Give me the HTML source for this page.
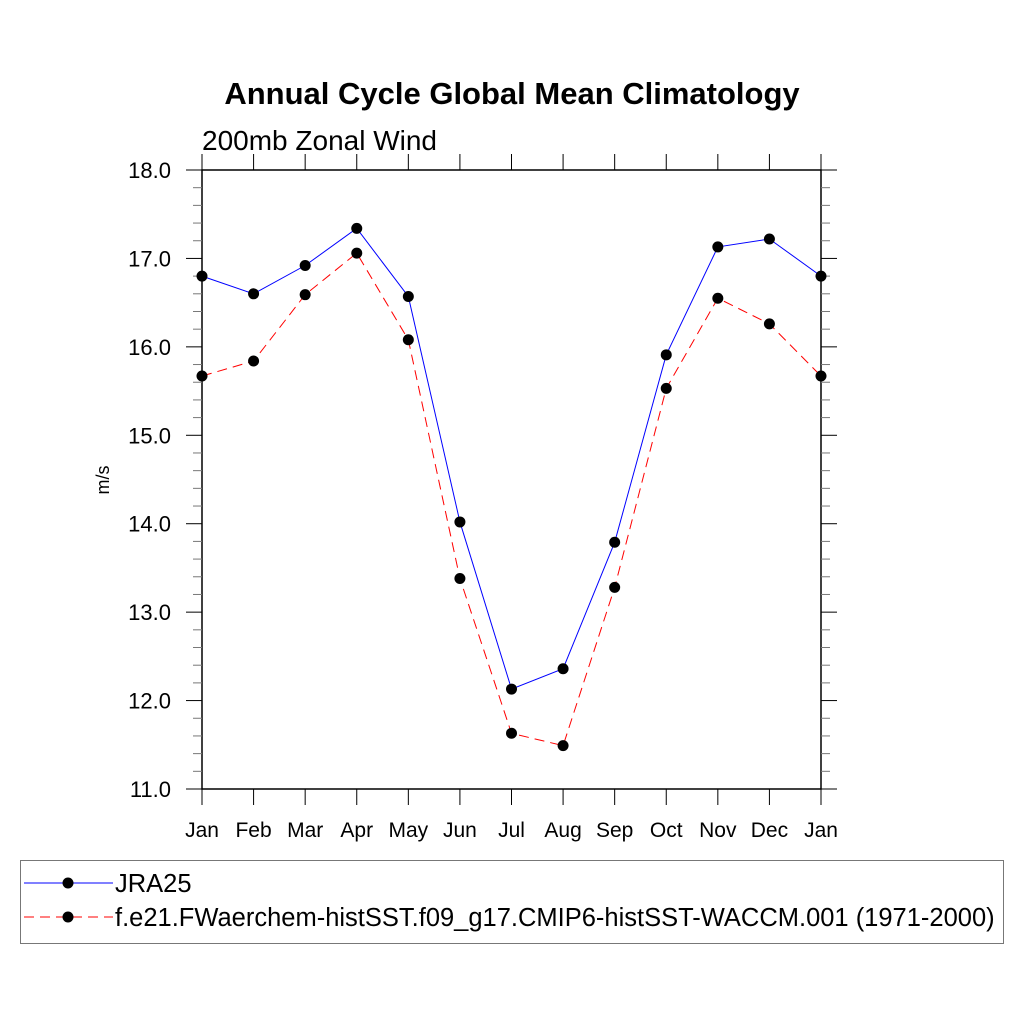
<!DOCTYPE html>
<html><head><meta charset="utf-8"><style>
body{margin:0;background:#fff;}
svg text{font-family:"Liberation Sans",sans-serif;}
</style></head><body>
<svg width="1024" height="1024" xmlns="http://www.w3.org/2000/svg">
<text x="512" y="104" text-anchor="middle" font-size="31" font-weight="bold">Annual Cycle Global Mean Climatology</text>
<text x="202" y="150" font-size="28">200mb Zonal Wind</text>
<text transform="translate(109,480) rotate(-90)" text-anchor="middle" font-size="18">m/s</text>
<g id="axes"></g>
<g id="series"></g>
<rect x="20.5" y="860.5" width="983" height="83" fill="none" stroke="#777" stroke-width="1"/>
<g>
<line x1="24" y1="883" x2="113" y2="883" stroke="#00f" stroke-width="1"/>
<circle cx="68" cy="883" r="5.5" fill="#000"/>
<text x="115" y="892" font-size="25.5">JRA25</text>
</g>
<g>
<line x1="24" y1="917" x2="113" y2="917" stroke="#f00" stroke-width="1" stroke-dasharray="10,6"/>
<circle cx="68" cy="917" r="5.5" fill="#000"/>
<text x="115" y="926" font-size="25.5">f.e21.FWaerchem-histSST.f09_g17.CMIP6-histSST-WACCM.001 (1971-2000)</text>
</g>
</svg>
<script>
const months=["Jan","Feb","Mar","Apr","May","Jun","Jul","Aug","Sep","Oct","Nov","Dec","Jan"];
const jra25=[16.8,16.6,16.92,17.34,16.57,14.02,12.13,12.36,13.79,15.91,17.13,17.22,16.8];
const model=[15.67,15.84,16.59,17.06,16.08,13.38,11.63,11.49,13.28,15.53,16.55,16.26,15.67];
const yTicks=["11.0","12.0","13.0","14.0","15.0","16.0","17.0","18.0"];
const L=202,R=821,T=170,B=789,YMIN=11,YMAX=18;
const NS="http://www.w3.org/2000/svg";
const xs=i=>L+(R-L)*i/(months.length-1);
const ys=v=>B-(B-T)*(v-YMIN)/(YMAX-YMIN);
function mk(tag,attrs,parent){const e=document.createElementNS(NS,tag);for(const k in attrs)e.setAttribute(k,attrs[k]);parent.appendChild(e);return e;}
const ax=document.getElementById('axes');
const fr=mk('rect',{x:L,y:T,width:R-L,height:B-T,fill:'none',stroke:'#000','stroke-width':1.5},ax);


months.forEach((m,i)=>{const x=xs(i);
 mk('line',{x1:x,y1:B,x2:x,y2:B+16,stroke:'#000'},ax);
 mk('line',{x1:x,y1:T,x2:x,y2:T-16,stroke:'#000'},ax);
 const t=mk('text',{x:x,y:837,'text-anchor':'middle','font-size':21},ax);t.textContent=m;
 
 
});
for(let v=YMIN;v<=YMAX+1e-6;v+=0.2){const y=ys(v);const major=Math.abs(v-Math.round(v))<1e-6;const len=major?16:9;
 mk('line',{x1:L-len,y1:y,x2:L,y2:y,stroke:major?'#000':'#777'},ax);
 mk('line',{x1:R,y1:y,x2:R+len,y2:y,stroke:major?'#000':'#777'},ax);}
yTicks.forEach(s=>{const t=mk('text',{x:171,y:ys(parseFloat(s))+8,'text-anchor':'end','font-size':22},ax);t.textContent=s;
 
 
});
const sg=document.getElementById('series');
function series(data,color,dash,name){const g=mk('g',{},sg);
 
 
 mk('polyline',{points:data.map((v,i)=>xs(i)+','+ys(v)).join(' '),fill:'none',stroke:color,'stroke-width':1,'stroke-dasharray':dash},g);
 data.forEach((v,i)=>{const c=mk('circle',{cx:xs(i),cy:ys(v),r:5.5,fill:'#000'},g);
  
  });}
series(model,'#f00','10,6','series-model');
series(jra25,'#00f','none','series-jra25');
</script>
</body></html>
